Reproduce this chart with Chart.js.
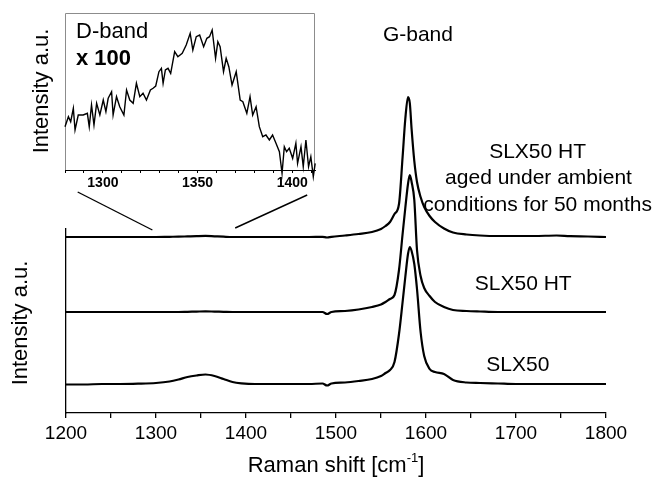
<!DOCTYPE html>
<html>
<head>
<meta charset="utf-8">
<script src="https://cdn.jsdelivr.net/npm/chart.js@4"></script>
<style>
  html, body { margin: 0; padding: 0; background: #fff; }
  #wrap { position: relative; width: 655px; height: 481px; }
  #wrap canvas { position: absolute; left: 0; top: 0; }
</style>
</head>
<body>
<div id="wrap">
  <canvas id="main" width="655" height="481"></canvas>
  <canvas id="inset" width="330" height="200"></canvas>
</div>
<script>
// Raman shift grid (cm-1) for the three main spectra
const shift = [1200,1220,1240,1260,1280,1300,1315,1325,1335,1345,1355,1365,1375,1385,1395,
  1410,1430,1450,1470,1485,1490,1495,1510,1525,1540,1550,1555,1560,1565,1570,
  1574,1577,1580,1582,1584,1587,1590,1594,1598,1604,1610,1620,1630,1645,1660,
  1680,1700,1720,1745,1760,1780,1800];

// intensities (a.u.) above each spectrum's own baseline
const slx50htAged = [0,0,0,0,0, 0,0.2,0.3,0.6,0.9, 1.1,0.7,0.3,0,0, 0,0,0,0,0.2,
  -0.5,0.2,1.5,3,5, 8,11,15,23,33, 80,118,140,134,108, 76,55,40,30,21,
  15,8.5,4.5,2.5,1.5, 1,1,1,1.5,0.8, 0.5,0];
const slx50ht = [0,0,0,0,0, 0,0,0,0.2,0.4, 0.6,0.4,0.2,0,0, 0,0,0,0,0,
  -2,0,1,2.5,5, 7.5,10,13,17,42, 78,104,128,137,130, 112,62,36,24,16,
  10,5,2,1,0.5, 0,0,0,0,0, 0,0];
const slx50 = [-0.5,-0.5,0,0,0.3, 1,2.5,4.5,7,8.5, 9.5,8,5,2,0.7, 0,0,0,0,0.5,
  -1.5,0.5,1.5,3,5, 8,11,14,22,50, 82,107,130,137,133, 120,95,52,28,15,
  12,10,4,1.5,1, 0.5,0,0,0,0, 0,0];

// vertical stacking offsets (a.u.)
const offsets = [176, 101, 29];

// D-band detail (x 100) shown in the inset
const insetShift = [1280.0,1281.8,1283.0,1284.4,1285.3,1287.0,1289.6,1291.8,1292.8,1294.0,
  1295.3,1296.7,1298.4,1300.2,1301.6,1302.8,1304.6,1305.4,1307.2,1308.9,
  1311.1,1312.5,1314.2,1316.0,1317.7,1319.5,1321.2,1323.0,1325.1,1326.5,
  1327.9,1329.6,1330.9,1331.8,1333.0,1334.4,1335.8,1337.9,1339.6,1341.9,
  1344.0,1346.1,1347.5,1349.3,1351.1,1353.2,1354.9,1356.3,1357.7,1359.5,
  1360.7,1361.9,1363.7,1365.1,1366.5,1368.2,1370.4,1372.5,1373.9,1376.0,
  1377.7,1379.1,1380.9,1382.6,1384.4,1386.1,1387.9,1389.6,1391.4,1393.2,
  1394.6,1395.8,1397.0,1398.4,1400.2,1401.9,1402.8,1404.6,1405.8,1407.2,
  1408.6,1409.8,1411.1,1412.1];
const insetIntensity = [43.3,53.3,48.3,61.7,40,55,55,56.7,43.3,65,
  45,66.7,55,70,58.3,71.7,78.3,55,73.3,63.3,
  55,80,70,66.7,86.7,73.3,76.7,70,80,81.7,
  84,98.3,101.7,86.7,100,101.7,96.7,118.3,113.3,116.7,
  125,136.7,120,133.3,135,123.3,131.7,133.3,140,111.7,
  128.3,123.3,98.3,111.7,103.3,85,98.3,70,68.3,56.7,
  73.3,55,63.3,43.3,33.3,35,30,35,26.7,18.3,
  -3.3,23.3,18.3,21.7,11.7,26.7,6.7,23.3,3.3,30,
  3.3,13.3,-6.7,6.7];

// zoom connector lines (main chart units)
const connectorLeft = [{x: 1213, y: 221}, {x: 1296, y: 183}];
const connectorRight = [{x: 1468, y: 218}, {x: 1388, y: 185}];

// text labels placed in main chart units
const labels = [
  {text: 'G-band', x: 1591, y: 378},
  {text: 'SLX50 HT', x: 1724, y: 261},
  {text: 'aged under ambient', x: 1725, y: 235},
  {text: 'conditions for 50 months', x: 1724, y: 208},
  {text: 'SLX50 HT', x: 1708, y: 129},
  {text: 'SLX50', x: 1702, y: 48}
];

const FONT = '"Liberation Sans", Arial, Helvetica, sans-serif';

const spectra = [slx50htAged, slx50ht, slx50].map((vals, k) => ({
  data: shift.map((s, i) => ({x: s, y: vals[i] + offsets[k]})),
  borderColor: '#000',
  borderWidth: 2.2,
  pointRadius: 0,
  cubicInterpolationMode: 'monotone',
  fill: false,
  clip: false
}));

const connectors = [connectorLeft, connectorRight].map(pts => ({
  data: pts,
  borderColor: '#000',
  borderWidth: 1.4,
  pointRadius: 0,
  tension: 0,
  clip: false
}));

const mainText = {
  id: 'mainText',
  afterDraw(chart) {
    const ctx = chart.ctx;
    const xs = chart.scales.x, ys = chart.scales.y;
    ctx.save();
    ctx.fillStyle = '#000';
    ctx.font = '21px ' + FONT;
    ctx.textAlign = 'center';
    ctx.textBaseline = 'middle';
    labels.forEach(l => {
      ctx.fillText(l.text, xs.getPixelForValue(l.x), ys.getPixelForValue(l.y));
    });

    // y axis title
    ctx.save();
    ctx.font = '22px ' + FONT;
    ctx.translate(21, (chart.chartArea.top + chart.chartArea.bottom) / 2 + 2);
    ctx.rotate(-Math.PI / 2);
    ctx.fillText('Intensity a.u.', 0, 0);
    ctx.restore();

    // x axis title with superscript
    const cx = (chart.chartArea.left + chart.chartArea.right) / 2;
    const base = 472;
    const big = '22px ' + FONT, small = '13px ' + FONT;
    ctx.textAlign = 'left';
    ctx.textBaseline = 'alphabetic';
    ctx.font = big;
    const w1 = ctx.measureText('Raman shift [cm').width;
    const w3 = ctx.measureText(']').width;
    ctx.font = small;
    const w2 = ctx.measureText('-1').width;
    let x0 = cx - (w1 + w2 + w3) / 2;
    ctx.font = big;
    ctx.fillText('Raman shift [cm', x0, base);
    ctx.font = small;
    ctx.fillText('-1', x0 + w1, base - 10);
    ctx.font = big;
    ctx.fillText(']', x0 + w1 + w2, base);
    ctx.restore();
  }
};

new Chart(document.getElementById('main'), {
  type: 'line',
  data: {datasets: spectra.concat(connectors)},
  options: {
    responsive: false,
    animation: false,
    devicePixelRatio: 1,
    layout: {padding: {top: 229, right: 49, left: 0, bottom: 0}},
    plugins: {legend: {display: false}, tooltip: {enabled: false}},
    scales: {
      x: {
        type: 'linear', min: 1200, max: 1800,
        border: {display: true, color: '#000', width: 1.3},
        grid: {display: true, drawOnChartArea: false, drawTicks: true, tickLength: 5, color: '#000', lineWidth: 1.3},
        ticks: {
          stepSize: 50, autoSkip: false, maxRotation: 0, padding: 4, color: '#000',
          font: {family: FONT, size: 19},
          callback: v => (v % 100 === 0 ? String(v) : '')
        },
        afterFit: s => { s.height = 68; }
      },
      y: {
        type: 'linear', min: 0, max: 184,
        border: {display: true, color: '#000', width: 1.3},
        grid: {display: true, drawOnChartArea: false, drawTicks: false},
        ticks: {display: false},
        afterFit: s => { s.width = 66; }
      }
    }
  },
  plugins: [mainText]
});

const insetDecor = {
  id: 'insetDecor',
  beforeDatasetsDraw(chart) {
    const {ctx, chartArea: a} = chart;
    ctx.save();
    ctx.strokeStyle = '#8c8c8c';
    ctx.lineWidth = 1;
    ctx.beginPath();
    ctx.moveTo(a.left + 0.5, a.bottom);
    ctx.lineTo(a.left + 0.5, a.top + 0.5);
    ctx.lineTo(a.right - 0.5, a.top + 0.5);
    ctx.lineTo(a.right - 0.5, a.bottom);
    ctx.stroke();
    ctx.restore();
  },
  afterDraw(chart) {
    const ctx = chart.ctx;
    ctx.save();
    ctx.fillStyle = '#000';
    ctx.textBaseline = 'alphabetic';
    ctx.textAlign = 'left';
    ctx.font = '22px ' + FONT;
    ctx.fillText('D-band', 76, 38);
    ctx.font = 'bold 22px ' + FONT;
    ctx.fillText('x 100', 76, 65);
    ctx.font = '22px ' + FONT;
    ctx.textAlign = 'center';
    ctx.textBaseline = 'middle';
    ctx.translate(42, 91);
    ctx.rotate(-Math.PI / 2);
    ctx.fillText('Intensity a.u.', 0, 0);
    ctx.restore();
  }
};

new Chart(document.getElementById('inset'), {
  type: 'line',
  data: {
    datasets: [{
      data: insetShift.map((s, i) => ({x: s, y: insetIntensity[i]})),
      borderColor: '#000',
      borderWidth: 1.4,
      pointRadius: 0,
      tension: 0,
      clip: false
    }]
  },
  options: {
    responsive: false,
    animation: false,
    devicePixelRatio: 1,
    layout: {padding: {top: 13, right: 15, left: 0, bottom: 0}},
    plugins: {legend: {display: false}, tooltip: {enabled: false}},
    scales: {
      x: {
        type: 'linear', min: 1280, max: 1412,
        border: {display: true, color: '#000', width: 1},
        grid: {display: true, drawOnChartArea: false, tickLength: 3, color: '#000'},
        ticks: {
          stepSize: 10, includeBounds: false, autoSkip: false, maxRotation: 0, padding: 2, color: '#000',
          font: {family: FONT, size: 14, weight: 'bold'},
          callback: v => (v % 50 === 0 ? String(v) : '')
        },
        afterFit: s => { s.height = 30; }
      },
      y: {
        type: 'linear', min: 0, max: 157,
        border: {display: false},
        grid: {display: false},
        ticks: {display: false},
        afterFit: s => { s.width = 65; }
      }
    }
  },
  plugins: [insetDecor]
});
</script>
</body>
</html>
